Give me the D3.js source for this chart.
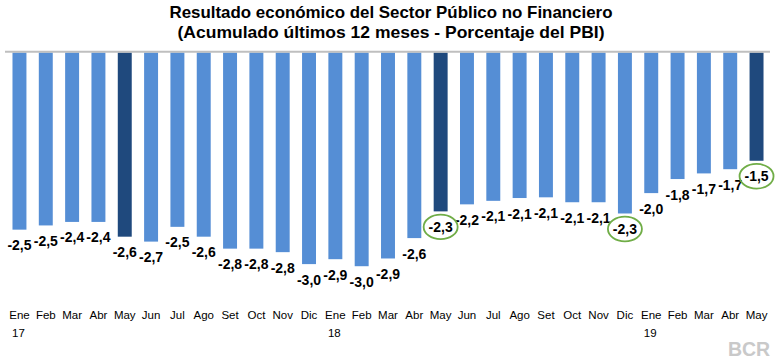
<!DOCTYPE html>
<html>
<head>
<meta charset="utf-8">
<script src="https://cdn.jsdelivr.net/npm/d3@7"></script>
<style>
  html, body { margin: 0; padding: 0; background: #ffffff; }
  svg { display: block; }
</style>
</head>
<body>
<svg id="chart" width="777" height="360"></svg>
<script>
// ---- data ----
const titleLines = [
  "Resultado económico del Sector Público no Financiero",
  "(Acumulado últimos 12 meses - Porcentaje del PBI)"
];
const months = ["Ene","Feb","Mar","Abr","May","Jun","Jul","Ago","Set","Oct","Nov","Dic",
                "Ene","Feb","Mar","Abr","May","Jun","Jul","Ago","Set","Oct","Nov","Dic",
                "Ene","Feb","Mar","Abr","May"];
const years = ["17","","","","","","","","","","","",
               "18","","","","","","","","","","","",
               "19","","","","",""];
const values = [-2.52, -2.46, -2.41, -2.41, -2.62, -2.69, -2.48, -2.62, -2.79, -2.79, -2.84, -3.01,
                -2.94, -3.04, -2.93, -2.64, -2.26, -2.16, -2.11, -2.07, -2.06, -2.13, -2.13, -2.29,
                -2.00, -1.80, -1.72, -1.66, -1.54];
const highlighted = [4, 16, 28];   // dark bars (May)
const circled = [16, 23, 28];      // green-circled labels

// ---- layout ----
const svg = d3.select("#chart");
const idx = d3.range(values.length);

const x = d3.scaleBand()
  .domain(idx)
  .range([6.3, 769.7])
  .paddingInner(0.47)
  .paddingOuter(0.235);

const y = d3.scaleLinear()
  .domain([0, -3])
  .range([52.5, 263.4]);

const fmt = v => d3.format(".1f")(v).replace("−", "-").replace(".", ",");

// title
const titleWidths = [443, 427];
svg.append("g").selectAll("text")
  .data(titleLines)
  .join("text")
  .attr("x", 391)
  .attr("y", (d, i) => 18 + i * 20)
  .attr("text-anchor", "middle")
  .attr("textLength", (d, i) => titleWidths[i])
  .attr("lengthAdjust", "spacingAndGlyphs")
  .style("font-family", "'Liberation Sans', Arial, sans-serif")
  .style("font-weight", "bold")
  .style("font-size", "16.5px")
  .attr("fill", "#000")
  .text(d => d);

// bars
svg.append("g").selectAll("rect")
  .data(idx)
  .join("rect")
  .attr("x", i => x(i))
  .attr("width", x.bandwidth())
  .attr("y", y(0))
  .attr("height", i => y(values[i]) - y(0))
  .attr("fill", i => highlighted.includes(i) ? "#1f497d" : "#558ed5");

// zero line
svg.append("line")
  .attr("x1", 5).attr("x2", 770)
  .attr("y1", y(0) - 0.8).attr("y2", y(0) - 0.8)
  .attr("stroke", "#bfbfbf")
  .attr("stroke-width", 2);

// data labels
svg.append("g").selectAll("text")
  .data(idx)
  .join("text")
  .attr("x", i => x(i) + x.bandwidth() / 2)
  .attr("y", i => y(values[i]) + 20.5)
  .attr("text-anchor", "middle")
  .style("font-family", "'Liberation Sans', Arial, sans-serif")
  .style("font-weight", "bold")
  .style("font-size", "14px")
  .attr("fill", "#000")
  .text(i => fmt(values[i]));

// green ellipses
svg.append("g").selectAll("ellipse")
  .data(circled)
  .join("ellipse")
  .attr("cx", i => x(i) + x.bandwidth() / 2)
  .attr("cy", i => y(values[i]) + 15.5)
  .attr("rx", 17)
  .attr("ry", 12.3)
  .attr("fill", "none")
  .attr("stroke", "#70ad47")
  .attr("stroke-width", 1.8);

// x axis (months)
const xAxis = d3.axisBottom(x)
  .tickSize(0)
  .tickPadding(0)
  .tickFormat(i => months[i]);
const gx = svg.append("g")
  .call(xAxis);
gx.select(".domain").remove();
gx.selectAll("text")
  .attr("y", 319)
  .attr("dy", null)
  .style("font-family", "'Liberation Sans', Arial, sans-serif")
  .style("font-size", "11.5px")
  .attr("fill", "#000");

// years row
svg.append("g").selectAll("text")
  .data(idx.filter(i => years[i]))
  .join("text")
  .attr("x", i => x(i) + x.bandwidth() / 2 - 1)
  .attr("y", 337)
  .attr("text-anchor", "middle")
  .style("font-family", "'Liberation Sans', Arial, sans-serif")
  .style("font-size", "11.5px")
  .attr("fill", "#000")
  .text(i => years[i]);

// watermark
svg.append("text")
  .attr("x", 749)
  .attr("y", 356)
  .attr("text-anchor", "middle")
  .style("font-family", "'Liberation Sans', Arial, sans-serif")
  .style("font-weight", "bold")
  .style("font-size", "19.5px")
  .attr("fill", "#c9c9c9")
  .text("BCR");
</script>
</body>
</html>
